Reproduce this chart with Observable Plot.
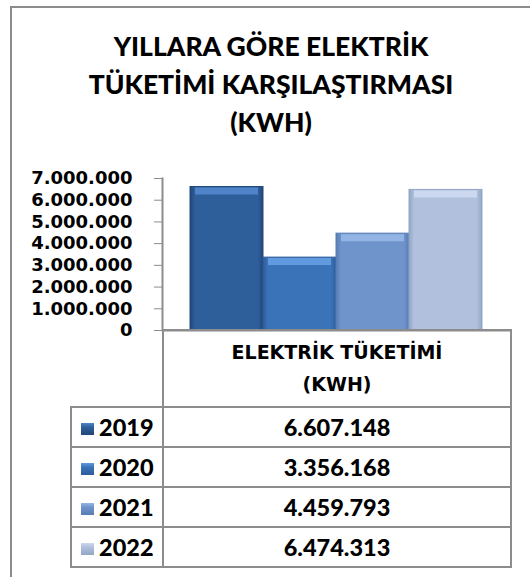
<!DOCTYPE html>
<html>
<head>
<meta charset="utf-8">
<script src="https://cdn.jsdelivr.net/npm/d3@7"></script>
<script src="https://cdn.jsdelivr.net/npm/@observablehq/plot@0.6"></script>
<style>
  html, body { margin: 0; padding: 0; background: #fff; }
  #wrap { position: relative; width: 530px; height: 577px; overflow: hidden; background: #fff; }
  #frame { position: absolute; left: 10px; top: 6px; width: 530px; height: 600px;
           border-left: 2px solid #8c8c8c; border-top: 2px solid #8c8c8c; }
  #title { position: absolute; left: 11px; width: 520px; top: 27px; text-align: center;
           font-family: Lato, sans-serif; font-weight: 900; font-size: 26.5px; line-height: 38px; color: #000; }
  #chart { position: absolute; left: 0; top: 160px; }
  #chart svg { overflow: visible; }
  #dt { position: absolute; left: 70px; top: 329px; border-collapse: collapse; table-layout: fixed; }
  #dt td { border: 2px solid #8c8c8c; padding: 0; color: #000; }
  #dt td.blank { border-top: none; border-left: none; border-right: 2px solid #8c8c8c; }
  #dt td.head { height: 70px; text-align: center; vertical-align: top;
                font-family: "DejaVu Sans", sans-serif; font-weight: bold; font-size: 19px; line-height: 32px; padding-top: 5px; }
  #dt td.yr { height: 38px; font-family: Lato, sans-serif; font-weight: 900; font-size: 23.5px; padding-left: 9px; white-space: nowrap; }
  #dt td.val { height: 38px; text-align: center; font-family: Lato, sans-serif; font-weight: 900; font-size: 23.5px; }
  .key { display: inline-block; width: 13px; height: 12px; margin-right: 5px; vertical-align: 1px; }
</style>
</head>
<body>
<div id="wrap">
  <svg width="0" height="0" style="position:absolute">
    <defs id="defs"></defs>
  </svg>
  <div id="frame"></div>
  <div id="title"></div>
  <div id="chart"></div>
  <table id="dt"><colgroup><col style="width:92px"><col style="width:348px"></colgroup><tbody id="tb"></tbody></table>
</div>
<script>
// ---- data ----
const titleLines = ["YILLARA GÖRE ELEKTRİK", "TÜKETİMİ KARŞILAŞTIRMASI", "(KWH)"];
const categoryLines = ["ELEKTRİK TÜKETİMİ", "(KWH)"];
const years = ["2019", "2020", "2021", "2022"];
const values = [6607148, 3356168, 4459793, 6474313];
const yTicks = [0, 1000000, 2000000, 3000000, 4000000, 5000000, 6000000, 7000000];

// ---- styles ----
const bodyColors = ["#2f5f9a", "#3b73b9", "#6f94cb", "#b0c0dd"];
const edgeColors = ["#22467a", "#2c5d9c", "#587db4", "#93a6c6"];
const topColors  = ["#4f84c8", "#619ade", "#93b5e6", "#cbd8ef"];
const gid = y => "g" + y;
const kid = y => "k" + y;

const fmt = d => d3.format(",")(d).replace(/,/g, ".");

// gradients
const defs = document.getElementById("defs");
let html = "";
years.forEach((y, i) => {
  html += `<linearGradient id="${gid(y)}" x1="0" x2="1" y1="0" y2="0">
    <stop offset="0" stop-color="${edgeColors[i]}"/>
    <stop offset="0.07" stop-color="${bodyColors[i]}"/>
    <stop offset="0.93" stop-color="${bodyColors[i]}"/>
    <stop offset="1" stop-color="${edgeColors[i]}"/>
  </linearGradient>
  <linearGradient id="${kid(y)}" x1="0" x2="0" y1="0" y2="1">
    <stop offset="0" stop-color="${topColors[i]}"/>
    <stop offset="0.35" stop-color="${bodyColors[i]}"/>
    <stop offset="1" stop-color="${edgeColors[i]}"/>
  </linearGradient>`;
});
defs.innerHTML = html;

const data = years.map((y, i) => ({year: y, value: values[i], fill: `url(#${gid(y)})`, top: topColors[i], edge: edgeColors[i]}));

// title
document.getElementById("title").innerHTML = titleLines.join("<br>");

// chart
const chart = Plot.plot({
  width: 530,
  height: 195,
  marginTop: 18,
  marginBottom: 25,
  marginLeft: 162,
  marginRight: 20,
  x: {domain: years, paddingInner: 0, paddingOuter: 0.38, axis: null},
  y: {domain: [0, 7000000], ticks: yTicks, label: null},
  color: {type: "identity"},
  marks: [
    Plot.barY(data, {x: "year", y: "value", fill: "fill", stroke: "edge", strokeWidth: 1}),
    Plot.tickY(data, {x: "year", y: "value", stroke: "top", strokeWidth: 7, dy: 4, insetLeft: 5, insetRight: 5}),
    Plot.ruleY([0], {stroke: "#8c8c8c", strokeWidth: 2}),
    Plot.frame({anchor: "left", stroke: "#8c8c8c", strokeWidth: 2}),
    Plot.axisY({ticks: yTicks, tickFormat: fmt, tickSize: 8, tickPadding: 22, label: null, stroke: "#8c8c8c", fill: "#000",
                fontSize: 18, fontWeight: "bold", fontFamily: "DejaVu Sans"})
  ]
});
document.getElementById("chart").appendChild(chart);

// data table
const tb = document.getElementById("tb");
let rows = `<tr><td class="blank"></td><td class="head">${categoryLines.join("<br>")}</td></tr>`;
years.forEach((y, i) => {
  rows += `<tr><td class="yr"><svg class="key" width="13" height="12"><rect width="13" height="12" fill="url(#${kid(y)})"/></svg>${y}</td><td class="val">${fmt(values[i])}</td></tr>`;
});
tb.innerHTML = rows;
</script>
</body>
</html>
